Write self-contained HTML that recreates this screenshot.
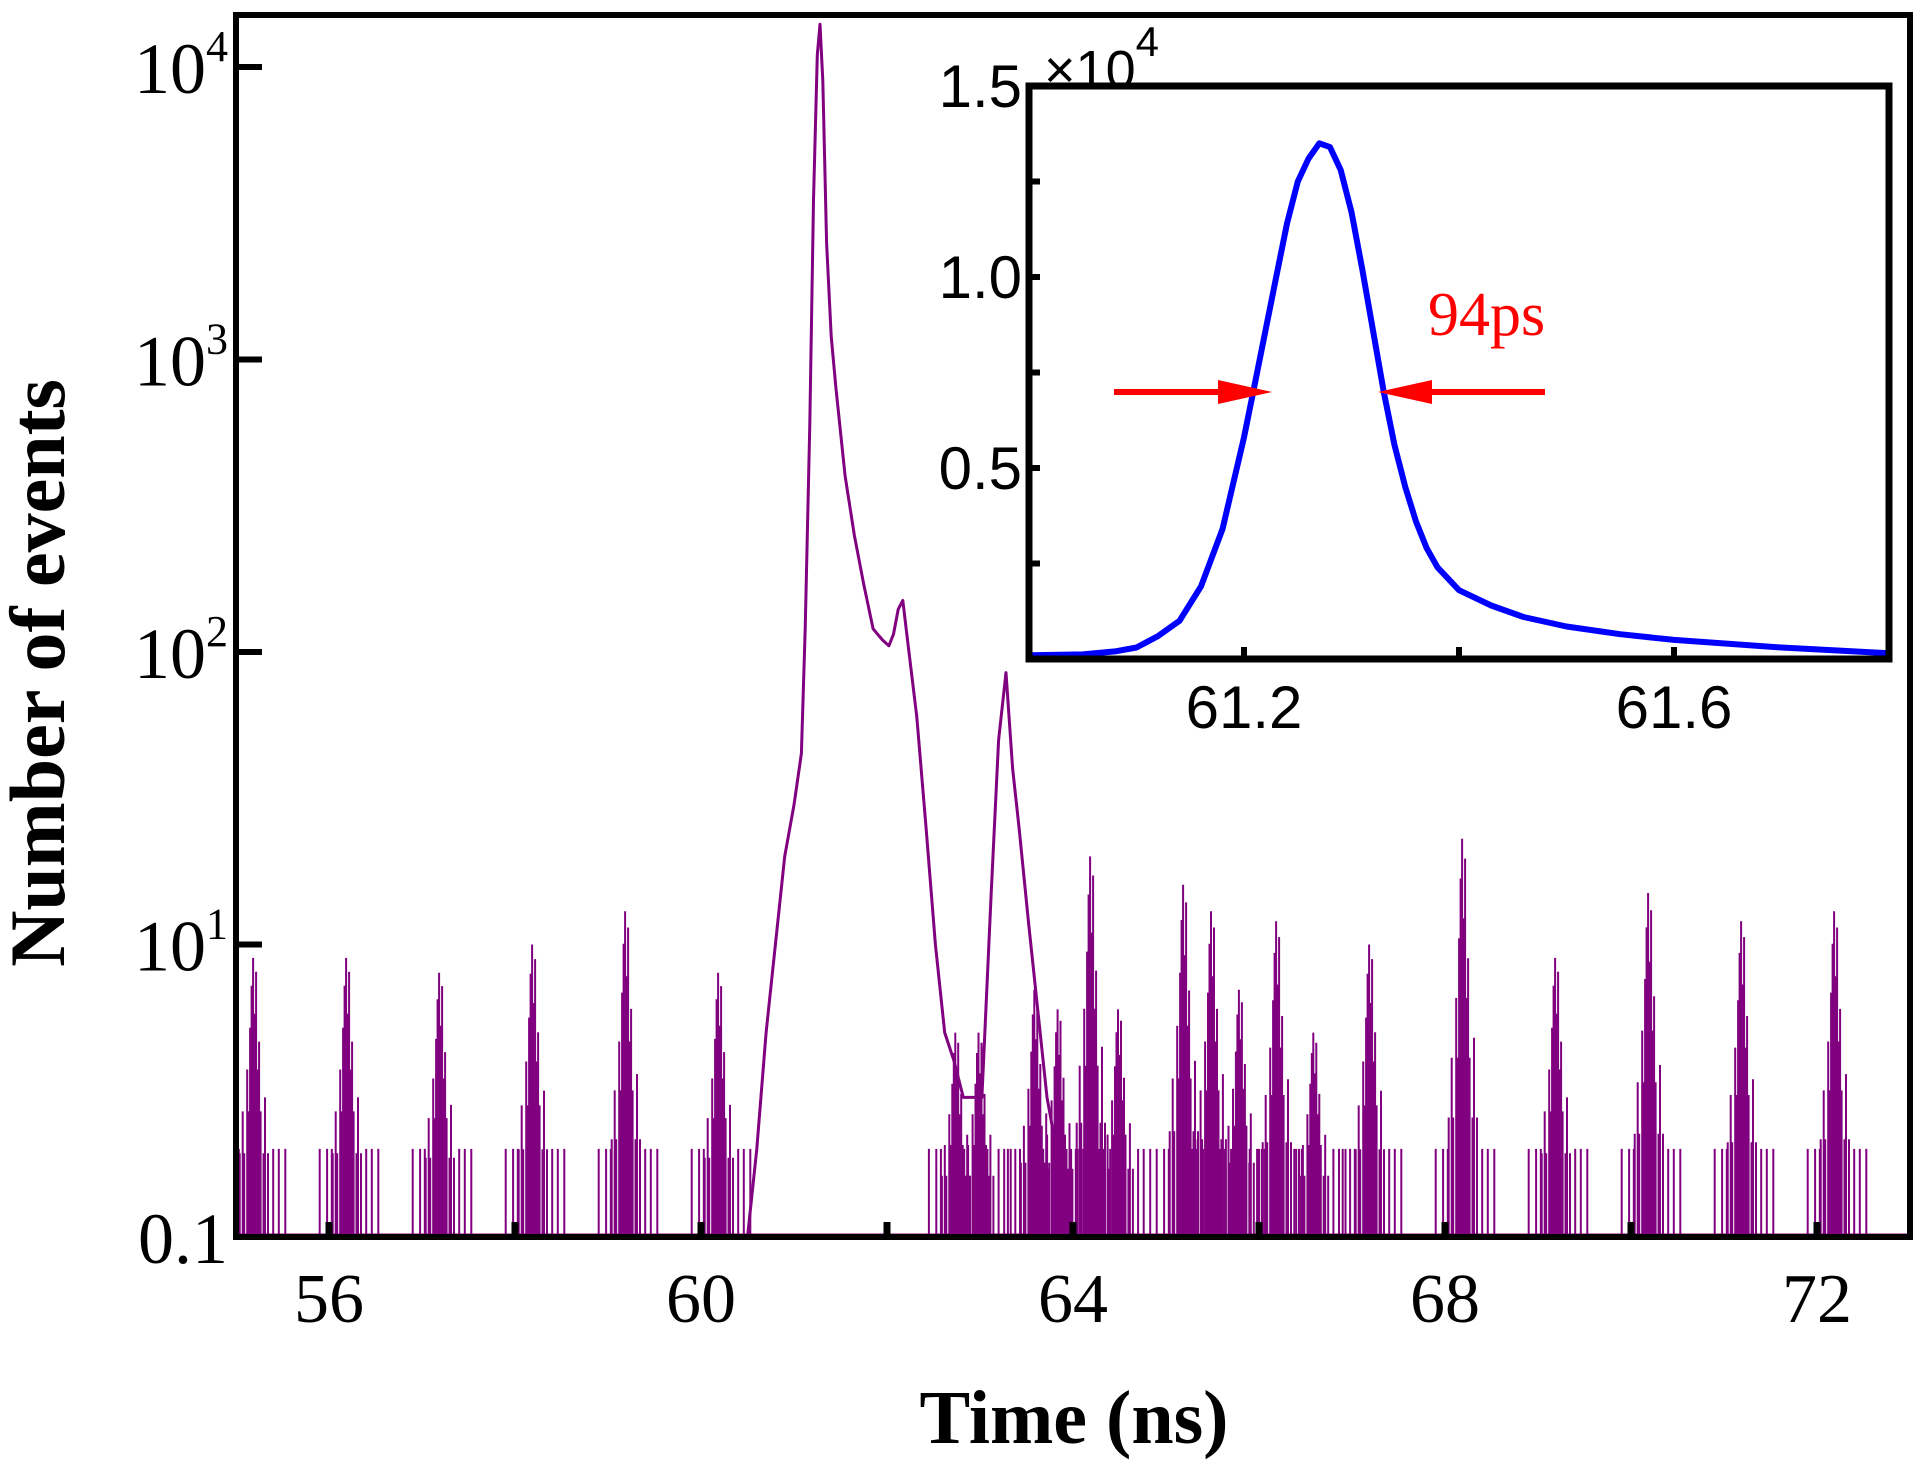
<!DOCTYPE html>
<html><head><meta charset="utf-8"><style>
html,body{margin:0;padding:0;background:#fff;width:1920px;height:1475px;overflow:hidden}
svg{display:block}
</style></head><body>
<svg id="chart" width="1920" height="1475" viewBox="0 0 1920 1475" xmlns="http://www.w3.org/2000/svg"><defs><clipPath id="plotclip"><rect x="236" y="15" width="1674" height="1222"/></clipPath></defs></svg>
<script>
// ---- main chart data ----
const burstCenters = [55.2,56.2,57.2,58.2,59.2,60.2,64.2,65.2,65.5,66.2,67.2,68.2,69.2,70.2,71.2,72.2,62.75,63.0,63.6,63.85,64.5,65.8,66.6];
const burstHeights = [9,9,8,10,13,8,20,16,13,12,10,23,9,15,12,13,5,5,7,6,6,7,5];
const peakTimes = [60.5,60.6,60.7,60.8,60.9,61.0,61.08,61.12,61.17,61.21,61.25,61.28,61.31,61.35,61.4,61.45,61.55,61.65,61.75,61.85,61.95,62.02,62.07,62.12,62.17,62.22,62.32,62.42,62.52,62.62,62.72,62.82,62.92,63.02,63.12,63.2,63.28,63.35,63.42,63.52,63.62,63.72,63.82];
const peakCounts = [1,2,5,10,20,30,45,120,600,3500,11000,14000,9000,2500,1200,800,400,250,170,120,110,105,115,140,150,110,60,25,10,5,4,3,3,3,15,50,85,40,25,12,6,3,2];
const mainXTicks = [56,60,64,68,72];
const mainYTickVals = [1,10,100,1000,10000];
const mainYTickLabels = ["0.1","10^1","10^2","10^3","10^4"];
// ---- inset data (counts in units of 1e4) ----
const insetTimes = [61.0,61.05,61.08,61.1,61.12,61.14,61.16,61.18,61.2,61.21,61.22,61.23,61.24,61.25,61.26,61.27,61.28,61.29,61.3,61.31,61.32,61.33,61.34,61.35,61.36,61.37,61.38,61.4,61.43,61.46,61.5,61.55,61.6,61.7,61.8];
const insetCounts = [0.01,0.012,0.02,0.03,0.06,0.1,0.19,0.34,0.58,0.72,0.86,1.0,1.14,1.25,1.31,1.35,1.34,1.28,1.17,1.02,0.86,0.7,0.56,0.45,0.36,0.29,0.24,0.18,0.14,0.11,0.085,0.065,0.05,0.03,0.015];
const insetXTicks = [61.2,61.6];
const insetYTicks = [0.5,1.0,1.5];

const NS='http://www.w3.org/2000/svg';
const svg=document.getElementById('chart');
function mk(tag,attrs,parent){const e=document.createElementNS(NS,tag);for(const k in attrs)e.setAttribute(k,attrs[k]);(parent||svg).appendChild(e);return e;}

const mX=t=>236+(t-55)*(1674/18);
const mY=v=>1237-Math.log10(Math.max(v,1))*292.5;

const series=mk('g',{'clip-path':'url(#plotclip)'});


mk('line',{x1:mX(55),x2:mX(73),y1:mY(1)-2,y2:mY(1)-2,stroke:'#800080','stroke-width':3},series);
const tmpl=[0.3,0,0.45,0.3,0,0.6,0.45,0.75,0.9,1,0.8,0.95,0.6,0.7,0.45,0,0.3,0.5,0,0.3];
const extra=[-0.3,-0.22,-0.17,0.2,0.26,0.33];
burstCenters.forEach((c,i)=>{
  const lh=Math.log10(burstHeights[i]);
  let d='';
  tmpl.forEach((f,j)=>{const t=c+(j-tmpl.length/2)*0.016;const v=Math.pow(10,lh*f);d+=`M${mX(t).toFixed(1)} ${mY(1)} V${mY(v).toFixed(1)} `;});
  extra.forEach(o=>{d+=`M${mX(c+o).toFixed(1)} ${mY(1)} V${mY(2).toFixed(1)} `;});
  const p=mk('path',{d:d,stroke:'#800080','stroke-width':2,fill:'none'},series);
  
  
});
let pd='';
peakTimes.forEach((t,i)=>{pd+=(i?'L':'M')+mX(t).toFixed(1)+' '+mY(peakCounts[i]).toFixed(1)+' ';});
const pk=mk('path',{d:pd,stroke:'#800080','stroke-width':3,fill:'none','stroke-linejoin':'round'},series);



const fr=mk('rect',{x:236,y:15,width:1674,height:1222,fill:'none',stroke:'#000','stroke-width':6});


for(let t=56;t<=72;t+=2){mk('line',{x1:mX(t),x2:mX(t),y1:1237,y2:1222,stroke:'#000','stroke-width':7});}
mainXTicks.forEach(t=>{
  const tx=mk('text',{x:mX(t),y:1322,'text-anchor':'middle','font-family':'Liberation Serif, serif','font-size':70,fill:'#000'});
  tx.textContent=t;
  
  
});
mainYTickVals.forEach((v,i)=>{
  mk('line',{x1:236,x2:262,y1:mY(v),y2:mY(v),stroke:'#000','stroke-width':6});
  const lab=mainYTickLabels[i];
  const tx=mk('text',{x:228,y:mY(v)+26,'text-anchor':'end','font-family':'Liberation Serif, serif','font-size':72,fill:'#000'});
  
  
  if(lab.includes('^')){const [b,e]=lab.split('^');
    const t1=mk('tspan',{},tx);t1.textContent=b;
    const t2=mk('tspan',{dy:-32,'font-size':44},tx);t2.textContent=e;}
  else tx.textContent=lab;
});
const xt=mk('text',{x:1074,y:1443,'text-anchor':'middle','font-family':'Liberation Serif, serif','font-size':76,'font-weight':'bold',fill:'#000'});
xt.textContent='Time (ns)';


const yt=mk('text',{x:0,y:0,transform:'translate(64,673) rotate(-90)','text-anchor':'middle','font-family':'Liberation Serif, serif','font-size':78,'font-weight':'bold',fill:'#000'});
yt.textContent='Number of events';



// inset
const iX=t=>1029+(t-61)*(860/0.8);
const iY=v=>659-v*(573/1.5);
const ig=mk('g',{});


mk('rect',{x:1029,y:86,width:860,height:573,fill:'#fff'},ig);
let idd='';
insetTimes.forEach((t,i)=>{idd+=(i?'L':'M')+iX(t).toFixed(1)+' '+iY(insetCounts[i]).toFixed(1)+' ';});
const il=mk('path',{d:idd,stroke:'#0000ff','stroke-width':6,fill:'none','stroke-linejoin':'round'},ig);


const ifr=mk('rect',{x:1029,y:86,width:860,height:573,fill:'none',stroke:'#000','stroke-width':7},ig);


[0.25,0.5,0.75,1.0,1.25].forEach(v=>mk('line',{x1:1029,x2:1040,y1:iY(v),y2:iY(v),stroke:'#000','stroke-width':6},ig));
[61.2,61.4,61.6].forEach(t=>mk('line',{x1:iX(t),x2:iX(t),y1:659,y2:647,stroke:'#000','stroke-width':6},ig));
insetYTicks.forEach(v=>{
  const tx=mk('text',{x:1022,y:iY(v)+21,'text-anchor':'end','font-family':'Liberation Sans, sans-serif','font-size':60,fill:'#000'},ig);
  tx.textContent=v.toFixed(1);
  
  
});
insetXTicks.forEach(t=>{
  const tx=mk('text',{x:iX(t),y:728,'text-anchor':'middle','font-family':'Liberation Sans, sans-serif','font-size':60,fill:'#000'},ig);
  tx.textContent=t.toFixed(1);
  
  
});
const mult=mk('text',{x:1044,y:88,'font-family':'Liberation Sans, sans-serif','font-size':54,fill:'#000'},ig);


const m1=mk('tspan',{},mult);m1.textContent='×10';
const m2=mk('tspan',{dy:-32,'font-size':42},mult);m2.textContent='4';
const ar=mk('g',{fill:'#ff0000',stroke:'#ff0000'},ig);


mk('line',{x1:1114,x2:1230,y1:392,y2:392,'stroke-width':6},ar);
mk('polygon',{points:'1218,380 1272,392 1218,404',stroke:'none'},ar);
mk('line',{x1:1430,x2:1545,y1:392,y2:392,'stroke-width':6},ar);
mk('polygon',{points:'1432,380 1378,392 1432,404',stroke:'none'},ar);
const lbl=mk('text',{x:1428,y:335,'font-family':'Liberation Serif, serif','font-size':62,fill:'#ff0000'},ig);
lbl.textContent='94ps';


</script>
</body></html>
